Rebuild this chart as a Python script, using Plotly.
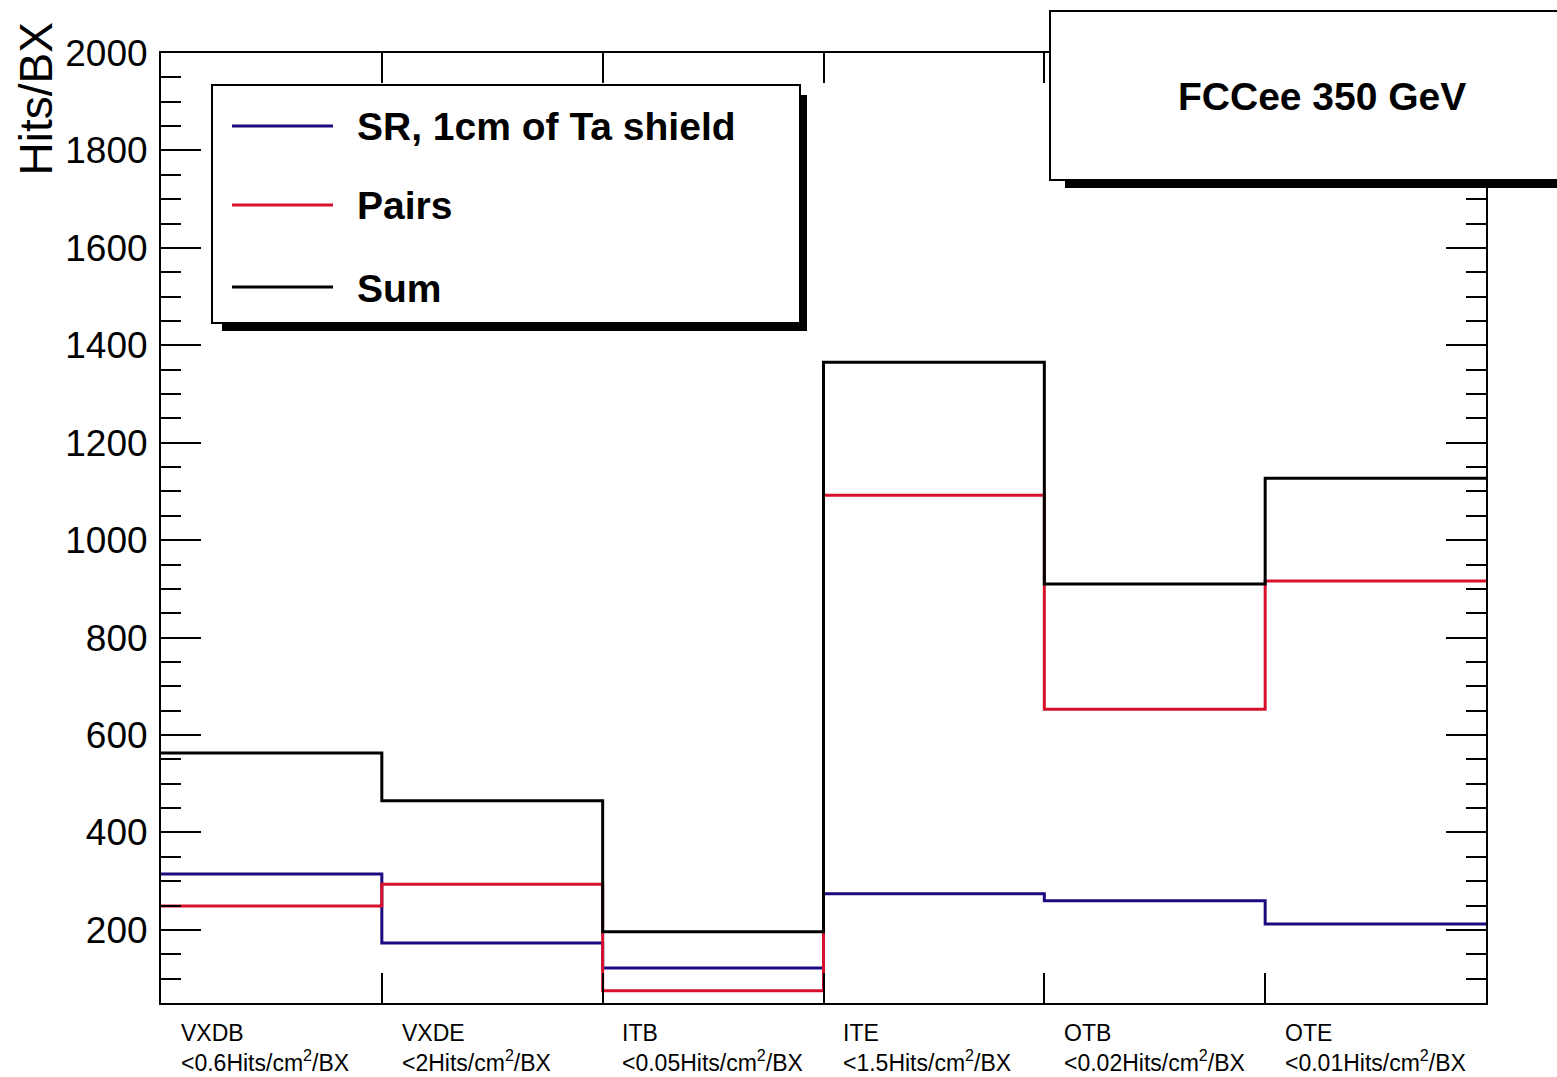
import plotly.graph_objects as go

# ---------------- data ----------------
categories = ["VXDB", "VXDE", "ITB", "ITE", "OTB", "OTE"]
limits = ["&lt;0.6Hits/cm<sup>2</sup>/BX", "&lt;2Hits/cm<sup>2</sup>/BX",
          "&lt;0.05Hits/cm<sup>2</sup>/BX", "&lt;1.5Hits/cm<sup>2</sup>/BX",
          "&lt;0.02Hits/cm<sup>2</sup>/BX", "&lt;0.01Hits/cm<sup>2</sup>/BX"]
sr_hits = [315, 173, 122, 274, 260, 212]
pairs_hits = [249, 294, 75, 1092, 653, 916]
sum_hits = [563, 465, 196, 1365, 910, 1127]
series_names = ["SR, 1cm of Ta shield", "Pairs", "Sum"]
y_ticks = [200, 400, 600, 800, 1000, 1200, 1400, 1600, 1800, 2000]
title_text = "FCCee 350 GeV"
y_title = "Hits/BX"

# ---------------- layout constants ----------------
W, H = 1557, 1077
L, R, T, B = 161, 1486, 53, 1003  # plot frame in pixels
colors = ["#1c0a80", "#d8102c", "#000000"]
FONT = "Liberation Sans, Arial, Helvetica, sans-serif"


def px(xp):
    return (xp - L) / (R - L)


def py(yp):
    return (B - yp) / (B - T)


edges = list(range(len(categories) + 1))

fig = go.Figure()
for name, vals, col in zip(series_names, [sr_hits, pairs_hits, sum_hits], colors):
    fig.add_trace(go.Scatter(
        x=edges, y=vals + [vals[-1]], mode="lines", line_shape="hv",
        line=dict(color=col, width=3), name=name, showlegend=False))

shapes = []
annotations = []

# Legend box with shadow
shapes.append(dict(type="rect", xref="paper", yref="paper",
                   x0=px(222), x1=px(807), y0=py(331), y1=py(95),
                   fillcolor="black", line=dict(width=0), layer="above"))
shapes.append(dict(type="rect", xref="paper", yref="paper",
                   x0=px(212), x1=px(800), y0=py(323), y1=py(85),
                   fillcolor="white", line=dict(color="black", width=2), layer="above"))
leg_y = [126, 205, 287]
for name, col, ly in zip(series_names, colors, leg_y):
    shapes.append(dict(type="line", xref="paper", yref="paper",
                       x0=px(232), x1=px(333), y0=py(ly), y1=py(ly),
                       line=dict(color=col, width=3), layer="above"))
    annotations.append(dict(xref="paper", yref="paper", x=px(355), y=py(ly + 1),
                            text="<b>%s</b>" % name, showarrow=False,
                            xanchor="left", yanchor="middle",
                            font=dict(family=FONT, size=39, color="black")))

# Title box with shadow
shapes.append(dict(type="rect", xref="paper", yref="paper",
                   x0=px(1065), x1=px(1600), y0=py(188), y1=py(25),
                   fillcolor="black", line=dict(width=0), layer="above"))
shapes.append(dict(type="rect", xref="paper", yref="paper",
                   x0=px(1050), x1=px(1600), y0=py(180), y1=py(11),
                   fillcolor="white", line=dict(color="black", width=2), layer="above"))
annotations.append(dict(xref="paper", yref="paper", x=px(1322), y=py(96),
                        text="<b>%s</b>" % title_text, showarrow=False,
                        xanchor="center", yanchor="middle",
                        font=dict(family=FONT, size=39, color="black")))

# Y axis title (top-aligned, ROOT style)
annotations.append(dict(xref="paper", yref="paper", x=px(36), y=py(20),
                        text=y_title, showarrow=False, textangle=-90,
                        xanchor="center", yanchor="top",
                        font=dict(family=FONT, size=46, color="black")))

# Bin labels
for i, (c, lim) in enumerate(zip(categories, limits)):
    annotations.append(dict(xref="x", yref="paper", x=i + 0.08, y=py(1018),
                            text=c + "<br>" + lim, showarrow=False,
                            xanchor="left", yanchor="top", align="left",
                            font=dict(family=FONT, size=23, color="black")))

fig.update_layout(
    width=W, height=H,
    margin=dict(l=L, r=W - R, t=T, b=H - B, pad=0),
    paper_bgcolor="white", plot_bgcolor="white",
    shapes=shapes, annotations=annotations,
    font=dict(family=FONT, color="black"),
    xaxis=dict(range=[0, len(categories)], tickvals=edges, showticklabels=False,
               ticks="inside", ticklen=30, tickwidth=2, tickcolor="black",
               showline=True, linecolor="black", linewidth=2, mirror="allticks",
               showgrid=False, zeroline=False),
    yaxis=dict(range=[50, 2000], tickvals=y_ticks,
               ticks="inside", ticklen=40, tickwidth=2, tickcolor="black",
               minor=dict(dtick=50, ticks="inside", ticklen=20, tickwidth=2,
                          tickcolor="black", showgrid=False),
               showline=True, linecolor="black", linewidth=2, mirror="allticks",
               showgrid=False, zeroline=False,
               tickfont=dict(family=FONT, size=37, color="black"),
               ticklabelstandoff=4),
)

fig.write_html("out.html")
